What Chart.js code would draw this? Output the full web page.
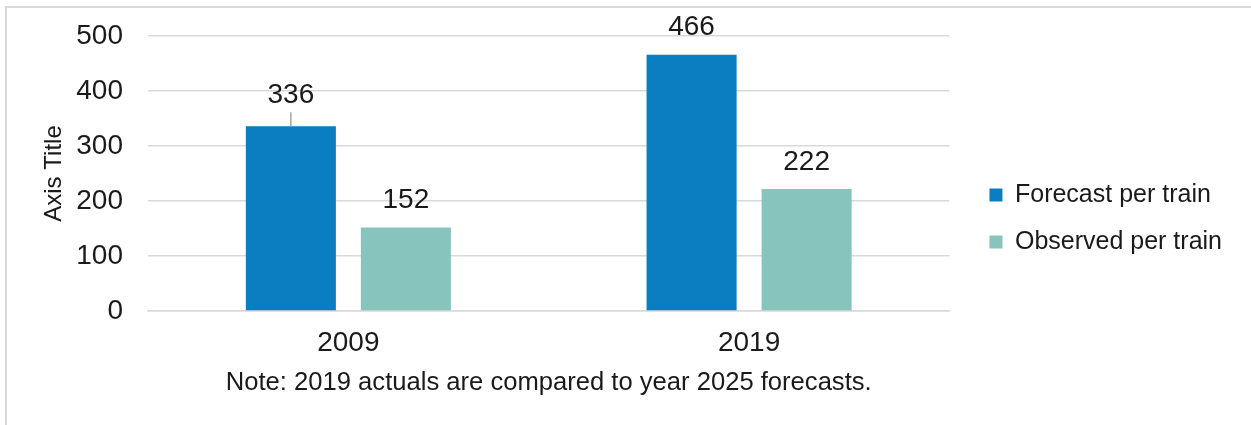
<!DOCTYPE html>
<html>
<head>
<meta charset="utf-8">
<script src="https://cdn.jsdelivr.net/npm/chart.js@4.4.0/dist/chart.umd.min.js"></script>
<style>
    body { margin: 0; background: #ffffff; }
    #frame {
        position: absolute; left: 5px; top: 6px; width: 1400px; height: 600px;
        border-left: 2px solid #d9d9d9; border-top: 2px solid #d9d9d9;
    }
    #wrap { position: absolute; left: 0; top: 0; width: 1251px; height: 425px; }
</style>
</head>
<body>
<div id="frame"></div>
<div id="wrap"><canvas id="chart"></canvas></div>
<script>
// values
const years = ["2009", "2019"];
const forecastPerTrain = [336, 466];
const observedPerTrain = [152, 222];
const yTicks = [0, 100, 200, 300, 400, 500];

const FONT = "'Liberation Sans', Arial, sans-serif";
const TEXT = "#1a1a1a";

// value labels above each bar, the first one with a short leader line
const barLabels = {
    id: "barLabels",
    afterDatasetsDraw(chart) {
        const { ctx } = chart;
        ctx.save();
        ctx.font = "28px " + FONT;
        ctx.fillStyle = TEXT;
        ctx.textAlign = "center";
        ctx.textBaseline = "middle";
        chart.data.datasets.forEach((ds, di) => {
            chart.getDatasetMeta(di).data.forEach((bar, i) => {
                const leader = di === 0 && i === 0;
                const off = leader ? 31 : 27;
                if (leader) {
                    ctx.strokeStyle = "#a6a6a6";
                    ctx.lineWidth = 1.5;
                    ctx.beginPath();
                    ctx.moveTo(bar.x, bar.y - 14);
                    ctx.lineTo(bar.x, bar.y);
                    ctx.stroke();
                }
                ctx.fillText(ds.data[i], bar.x, bar.y - off);
            });
        });
        ctx.restore();
    }
};

// leave a gap between plot area and legend
const legendGap = {
    id: "legendGap",
    afterLayout(chart) {
        chart.legend.left += 18;
        chart.legend.right += 18;
    }
};

new Chart(document.getElementById("chart").getContext("2d"), {
    type: "bar",
    data: {
        labels: years,
        datasets: [
            {
                label: "Forecast per train",
                data: forecastPerTrain,
                backgroundColor: "#0b7dc1",
                categoryPercentage: 0.574,
                barPercentage: 0.783
            },
            {
                label: "Observed per train",
                data: observedPerTrain,
                backgroundColor: "#87c4be",
                categoryPercentage: 0.574,
                barPercentage: 0.783
            }
        ]
    },
    options: {
        responsive: true,
        maintainAspectRatio: false,
        animation: false,
        layout: { padding: { left: 38, top: 36, right: 37, bottom: 24 } },
        plugins: {
            tooltip: { enabled: false },
            legend: {
                position: "right",
                align: "center",
                labels: {
                    boxWidth: 13,
                    boxHeight: 13,
                    padding: 22,
                    color: TEXT,
                    font: { family: FONT, size: 25 }
                }
            }
        },
        scales: {
            x: {
                afterFit: scale => { scale.height = 90; },
                grid: { display: false, drawTicks: false },
                border: { display: true, color: "#d9d9d9", width: 1.5 },
                ticks: { color: TEXT, padding: 15, font: { family: FONT, size: 28 } },
                title: {
                    display: true,
                    text: "Note: 2019 actuals are compared to year 2025 forecasts.",
                    color: TEXT,
                    padding: { top: 0, bottom: 3 },
                    font: { family: FONT, size: 25.6 }
                }
            },
            y: {
                min: 0,
                max: 500,
                afterBuildTicks: scale => { scale.ticks = yTicks.map(v => ({ value: v })); },
                afterFit: scale => { scale.width = 110; },
                // invisible tick marks keep the labels away from the plot
                grid: { color: "#d9d9d9", lineWidth: 1.5, drawTicks: true, tickLength: 25, tickColor: "rgba(0,0,0,0)" },
                border: { display: false },
                ticks: { color: TEXT, padding: 0, font: { family: FONT, size: 28 } },
                title: {
                    display: true,
                    text: "Axis Title",
                    color: TEXT,
                    padding: { top: 2, bottom: 0 },
                    font: { family: FONT, size: 24 }
                }
            }
        }
    },
    plugins: [barLabels, legendGap]
});
</script>
</body>
</html>
